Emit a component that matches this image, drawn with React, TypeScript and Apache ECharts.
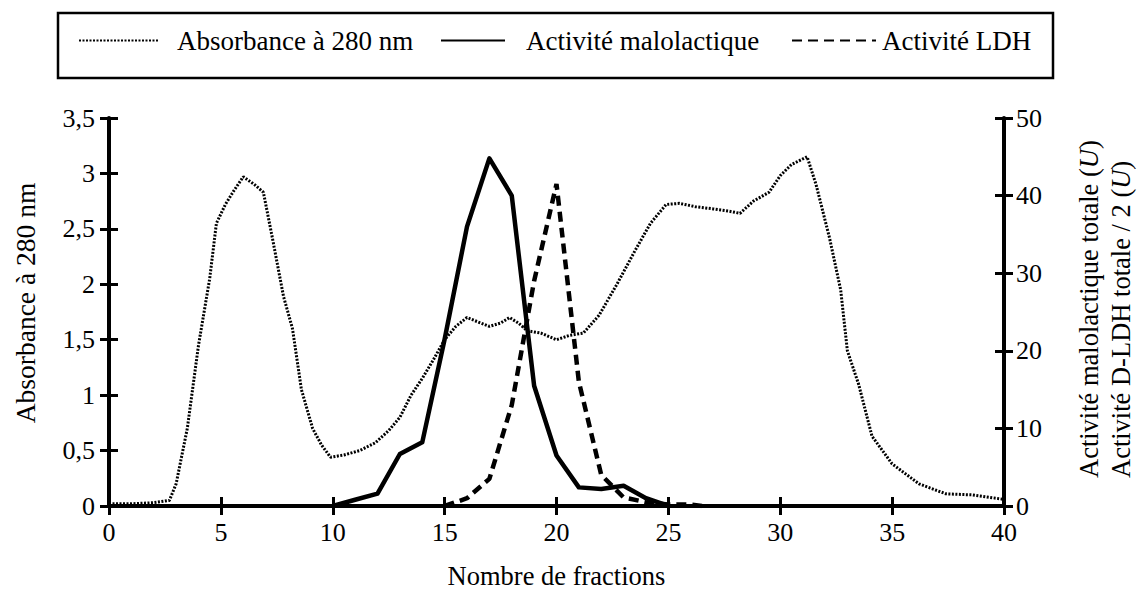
import React, { useEffect, useRef } from "react";
import * as echarts from "echarts";

const FONT = "'Liberation Serif', 'DejaVu Serif', serif";

// Absorbance at 280 nm along the elution (left axis)
const absFractions = [
  0, 1, 2, 2.7, 3, 3.5, 4, 4.5, 4.8, 5.2, 5.6, 6, 6.5, 6.9, 7.3, 7.8, 8.2, 8.6, 9.1, 9.5,
  9.9, 10.5, 11.2, 11.9, 12.5, 13, 13.5, 14, 14.5, 15, 15.5, 16, 16.5, 17, 17.5, 17.9, 18.3,
  18.7, 19.3, 20, 20.6, 21.2, 21.9, 22.7, 23.5, 24.2, 24.9, 25.5, 26.2, 27, 27.7, 28.2, 28.8,
  29.5, 30, 30.5, 31, 31.2, 31.6, 32.2, 32.7, 33, 33.5, 34.1, 35, 36.2, 37.4, 38.6, 40,
];
const absorbance = [
  0.02, 0.02, 0.03, 0.05, 0.2, 0.7, 1.45, 2.05, 2.55, 2.72, 2.85, 2.97, 2.9, 2.83, 2.42, 1.89,
  1.6, 1.05, 0.7, 0.55, 0.44, 0.46, 0.5, 0.57, 0.68, 0.8, 1.0, 1.15, 1.32, 1.5, 1.62, 1.7, 1.66,
  1.62, 1.65, 1.7, 1.65, 1.58, 1.56, 1.5, 1.54, 1.56, 1.72, 2.0, 2.3, 2.55, 2.72, 2.73, 2.7,
  2.68, 2.66, 2.64, 2.75, 2.83, 2.98, 3.08, 3.13, 3.15, 2.9, 2.42, 1.95, 1.4, 1.1, 0.63, 0.38,
  0.2, 0.11, 0.1, 0.06,
];

// Total malolactic activity (U), right axis
const maloFractions = [10, 11, 12, 13, 14, 15, 16, 17, 18, 19, 20, 21, 22, 23, 24, 25];
const maloActivity = [0, 0.8, 1.6, 6.7, 8.2, 21.5, 36, 44.8, 40, 15.5, 6.5, 2.4, 2.2, 2.6, 1.0, 0];

// Total D-LDH activity / 2 (U), right axis
const ldhFractions = [15, 16, 17, 18, 19, 20, 21, 22, 23, 24, 25, 26, 26.5];
const ldhActivity = [0, 1, 3.5, 13, 29, 41.5, 16, 4, 1.1, 0.5, 0.2, 0.2, 0];

const seriesNames = ["Absorbance à 280 nm", "Activité malolactique", "Activité LDH"];
const xTitle = "Nombre de fractions";
const leftTitle = "Absorbance à 280 nm";
const rightTitleLine1 = "{n|Activité malolactique totale (}{i|U}{n|)}";
const rightTitleLine2 = "{n|Activité D-LDH totale / 2 (}{i|U}{n|)}";

const pairs = (xs: number[], ys: number[]) => xs.map((x, i) => [x, ys[i]]);

const BLACK = "#000";
const axisLineStyle = { color: BLACK, width: 4 };
const tickStyle = { color: BLACK, width: 3 };
const labelFont = { fontFamily: FONT, fontSize: 26, color: BLACK };
const commaFmt = (v: number) => String(v).replace(".", ",");

function makeLegend(name: string, left: number, itemWidth: number, gap: number) {
  return {
    data: [name],
    left,
    top: 27,
    padding: 0,
    itemWidth,
    itemHeight: 14,
    selectedMode: false,
    itemStyle: { opacity: 0 },
    textStyle: { fontFamily: FONT, fontSize: 27, color: BLACK, padding: [0, 0, 0, gap] },
  };
}

export default function App() {
  const ref = useRef<HTMLDivElement>(null);

  useEffect(() => {
    if (!ref.current) return;
    const chart = echarts.init(ref.current, undefined, { renderer: "svg" });
    const rich = {
      n: { fontFamily: FONT, fontSize: 26.5, color: BLACK },
      i: { fontFamily: FONT, fontSize: 26.5, fontStyle: "italic", color: BLACK },
    };
    chart.setOption({
      animation: false,
      backgroundColor: "#fff",
      textStyle: { fontFamily: FONT, color: BLACK },
      grid: { left: 109, right: 135, top: 118, bottom: 81, containLabel: false },
      legend: [
        makeLegend(seriesNames[0], 78, 80, 13),
        makeLegend(seriesNames[1], 440, 64, 16),
        makeLegend(seriesNames[2], 791, 84, 1),
      ],
      graphic: [
        {
          type: "rect",
          shape: { x: 58, y: 13, width: 995, height: 65 },
          style: { fill: "none", stroke: BLACK, lineWidth: 2.5 },
          silent: true,
        },
        {
          type: "text",
          x: 25,
          y: 303,
          rotation: Math.PI / 2,
          style: { text: leftTitle, fontFamily: FONT, fontSize: 27.5, fill: BLACK, align: "center", verticalAlign: "middle" },
        },
        {
          type: "text",
          x: 1089,
          y: 478,
          rotation: Math.PI / 2,
          style: { text: rightTitleLine1, rich, fill: BLACK, align: "left", verticalAlign: "middle" },
        },
        {
          type: "text",
          x: 1121,
          y: 478,
          rotation: Math.PI / 2,
          style: { text: rightTitleLine2, rich, fill: BLACK, align: "left", verticalAlign: "middle" },
        },
      ],
      xAxis: [
        {
          type: "value",
          min: 0,
          max: 40,
          interval: 5,
          position: "bottom",
          axisLine: { onZero: false, lineStyle: axisLineStyle },
          axisTick: { show: true, inside: false, length: 9, lineStyle: tickStyle },
          axisLabel: { ...labelFont, margin: 13 },
          splitLine: { show: false },
          name: xTitle,
          nameLocation: "middle",
          nameGap: 56,
          nameTextStyle: { fontFamily: FONT, fontSize: 26.5, color: BLACK },
        },
        {
          type: "value",
          min: 0,
          max: 40,
          interval: 5,
          position: "bottom",
          axisLine: { show: false, onZero: false },
          axisTick: { show: true, inside: true, length: 9, lineStyle: tickStyle },
          axisLabel: { show: false },
          splitLine: { show: false },
        },
      ],
      yAxis: [
        {
          type: "value",
          min: 0,
          max: 3.5,
          interval: 0.5,
          position: "left",
          axisLine: { show: true, onZero: false, lineStyle: axisLineStyle },
          axisTick: { show: true, inside: false, length: 9, lineStyle: tickStyle },
          axisLabel: { ...labelFont, margin: 14, formatter: commaFmt, padding: [0, 0, 12, 0] },
          splitLine: { show: false },
        },
        {
          type: "value",
          min: 0,
          max: 50,
          interval: 10,
          position: "right",
          axisLine: { show: true, onZero: false, lineStyle: axisLineStyle },
          axisTick: { show: true, inside: false, length: 9, lineStyle: tickStyle },
          axisLabel: { ...labelFont, margin: 12 },
          splitLine: { show: false },
        },
        {
          type: "value",
          min: 0,
          max: 3.5,
          interval: 0.5,
          position: "left",
          axisLine: { show: false, onZero: false },
          axisTick: { show: true, inside: true, length: 9, lineStyle: tickStyle },
          axisLabel: { show: false },
          splitLine: { show: false },
        },
        {
          type: "value",
          min: 0,
          max: 50,
          interval: 10,
          position: "right",
          axisLine: { show: false, onZero: false },
          axisTick: { show: true, inside: true, length: 9, lineStyle: tickStyle },
          axisLabel: { show: false },
          splitLine: { show: false },
        },
      ],
      series: [
        {
          name: seriesNames[0],
          type: "line",
          xAxisIndex: 0,
          yAxisIndex: 0,
          data: pairs(absFractions, absorbance),
          symbol: "none",
          lineStyle: { color: BLACK, width: 3, type: [2, 1.5] },
        },
        {
          name: seriesNames[1],
          type: "line",
          xAxisIndex: 0,
          yAxisIndex: 1,
          data: pairs(maloFractions, maloActivity),
          symbol: "none",
          lineStyle: { color: BLACK, width: 4.5, join: "round" },
        },
        {
          name: seriesNames[2],
          type: "line",
          xAxisIndex: 0,
          yAxisIndex: 1,
          data: pairs(ldhFractions, ldhActivity),
          symbol: "none",
          lineStyle: { color: BLACK, width: 4.5, type: [10, 6] },
        },
      ],
    });
    return () => chart.dispose();
  }, []);

  return (
    <div
      ref={ref}
      style={{ position: "fixed", left: 0, top: 0, width: 1139, height: 594, background: "#fff" }}
    />
  );
}
